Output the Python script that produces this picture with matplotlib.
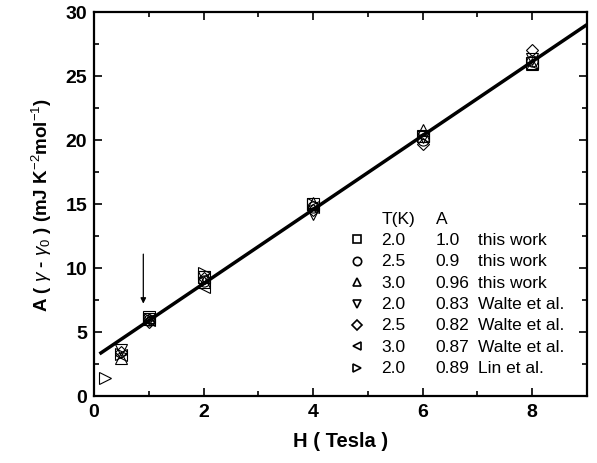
import matplotlib
matplotlib.use("Agg")
import matplotlib.pyplot as plt
from matplotlib.ticker import MultipleLocator

plt.rcParams['font.family'] = ['Liberation Sans', 'DejaVu Sans']
plt.rcParams['mathtext.fontset'] = 'custom'
plt.rcParams['mathtext.rm'] = 'Liberation Sans'
plt.rcParams['mathtext.it'] = 'Liberation Sans:italic'

# measured points, one list pair per data set
sq_h = [1, 2, 4, 6, 8]
sq_a = [6.2, 9.3, 15.0, 20.3, 26.0]
ci_h = [1, 2, 4, 6, 8]
ci_a = [5.9, 9.0, 14.8, 20.0, 26.2]
up_h = [0.5, 1, 2, 4, 6, 8]
up_a = [3.0, 6.0, 8.9, 15.1, 20.8, 25.9]
dn_h = [0.5, 1, 2, 4, 6, 8]
dn_a = [3.6, 6.0, 9.3, 14.2, 20.2, 26.3]
di_h = [0.5, 1, 2, 4, 6, 8]
di_a = [3.4, 5.8, 9.2, 14.5, 19.7, 27.0]
lt_h = [0.5, 1, 2, 4, 6, 8]
lt_a = [3.2, 5.9, 8.5, 14.8, 20.3, 26.0]
rt_h = [0.2, 0.5, 1, 2, 4]
rt_a = [1.4, 3.3, 6.0, 9.6, 15.0]

fit_h = [0.1, 9.0]
fit_slope = 2.89
fit_intercept = 3.0

legend_T = ["2.0", "2.5", "3.0", "2.0", "2.5", "3.0", "2.0"]
legend_A = ["1.0", "0.9", "0.96", "0.83", "0.82", "0.87", "0.89"]
legend_src = ["this work", "this work", "this work", "Walte et al.",
              "Walte et al.", "Walte et al.", "Lin et al."]

series = [
    (sq_h, sq_a, 's'),
    (ci_h, ci_a, 'o'),
    (up_h, up_a, '^'),
    (dn_h, dn_a, 'v'),
    (di_h, di_a, 'D'),
    (lt_h, lt_a, '<'),
    (rt_h, rt_a, '>'),
]

fig = plt.figure(figsize=(5.97, 4.64), dpi=100)
ax = fig.add_axes([0.1575, 0.1444, 0.8255, 0.8276])

for h, a, m in series:
    ms = 6.5 if m == 'D' else 8
    ax.plot(h, a, linestyle='none', marker=m, markersize=ms,
            markerfacecolor='none', markeredgecolor='black', markeredgewidth=0.8)

fit_a = [fit_slope * h + fit_intercept for h in fit_h]
ax.plot(fit_h, fit_a, color='black', linewidth=2.5, solid_capstyle='butt')

# arrow marking the low field point
ax.annotate('', xy=(0.9, 7.0), xytext=(0.9, 11.3),
            arrowprops=dict(arrowstyle='-|>', color='black', lw=0.9,
                            mutation_scale=8))

# legend drawn as a small table
col_marker = 4.8
col_T = 5.25
col_A = 6.24
col_src = 7.02
header_y = 13.9
row_step = 1.67
fs = 12.5
ax.text(col_T, header_y, "T(K)", fontsize=fs, va='center', ha='left')
ax.text(col_A, header_y, "A", fontsize=fs, va='center', ha='left')
for i, (h, a, m) in enumerate(series):
    y = header_y - row_step * (i + 1)
    ax.plot([col_marker], [y], linestyle='none', marker=m,
            markersize=5 if m == 'D' else 6,
            markerfacecolor='none', markeredgecolor='black', markeredgewidth=1.2)
    ax.text(col_T, y, legend_T[i], fontsize=fs, va='center', ha='left')
    ax.text(col_A, y, legend_A[i], fontsize=fs, va='center', ha='left')
    ax.text(col_src, y, legend_src[i], fontsize=fs, va='center', ha='left')

ax.set_xlim(0, 9)
ax.set_ylim(0, 30)
ax.xaxis.set_major_locator(MultipleLocator(2))
ax.xaxis.set_minor_locator(MultipleLocator(1))
ax.yaxis.set_major_locator(MultipleLocator(5))
ax.yaxis.set_minor_locator(MultipleLocator(2.5))
ax.tick_params(which='both', direction='in', top=True, right=True, width=1.2)
ax.tick_params(which='major', length=6, labelsize=14, pad=5)
ax.tick_params(which='minor', length=3.5)
for lab in ax.get_xticklabels() + ax.get_yticklabels():
    lab.set_fontweight('bold')
for sp in ax.spines.values():
    sp.set_linewidth(1.6)

ax.set_xlabel("H ( Tesla )", fontsize=14.5, fontweight='bold', labelpad=8)
ax.set_ylabel(r"A ( $\gamma$ - $\gamma_0$ ) (mJ K$^{-2}$mol$^{-1}$)",
              fontsize=13.5, fontweight='bold', labelpad=8)

fig.savefig("out.png", dpi=100)
